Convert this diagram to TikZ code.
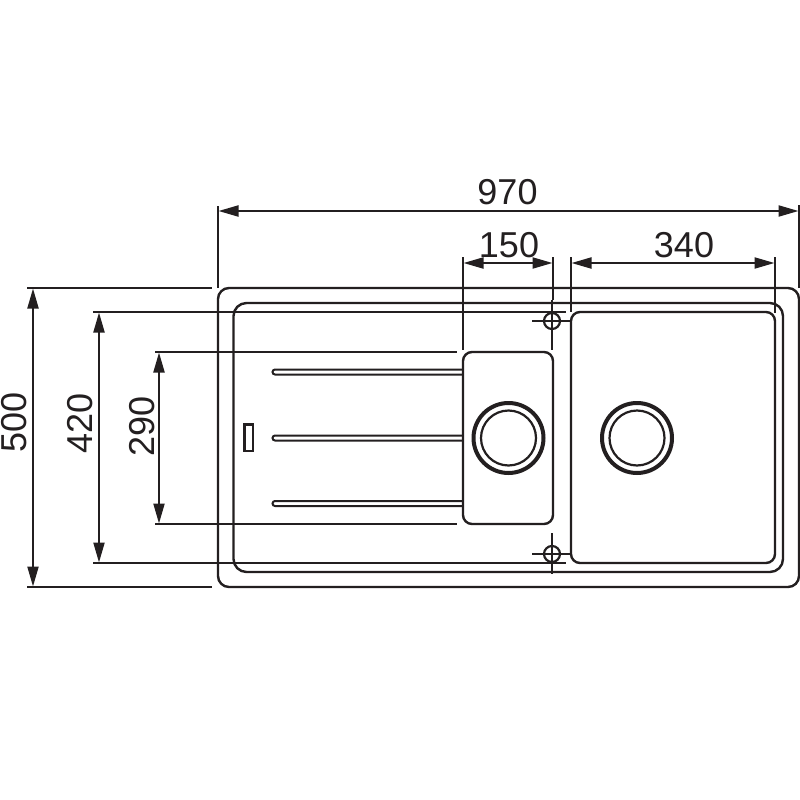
\documentclass[tikz,border=0pt]{standalone}
\usepackage{fontspec}
\setmainfont{Liberation Sans}
\usetikzlibrary{arrows.meta}
\definecolor{ink}{HTML}{231F20}
\tikzset{
  part/.style={draw=ink,line width=2.4pt},
  thin part/.style={draw=ink,line width=2.2pt},
  heavy ring/.style={draw=ink,line width=4pt},
  ext/.style={draw=ink,line width=2.1pt},
  dim/.style={draw=ink,line width=2.1pt,{Triangle[length=20pt,width=11pt]}-{Triangle[length=20pt,width=11pt]},shorten >=0.5pt,shorten <=0.5pt},
  label/.style={text=ink,font=\fontsize{36}{36}\selectfont,inner sep=0pt}
}
\newcommand{\holecross}[3]{%
  \coordinate (#1) at (#2,#3);
  \draw[thin part] (#1) circle[radius=8pt];
}
\begin{document}
\begin{tikzpicture}[x=1pt,y=-1pt]
\useasboundingbox (0,0) rectangle (800,800);
\fill[white] (0,0) rectangle (800,800);
% sink outlines
\draw[part,rounded corners=11pt] (218,288) rectangle (799,587);
\draw[part,rounded corners=13pt] (233.5,303) rectangle (783,572);
\draw[part,rounded corners=9pt] (571,312) rectangle (775,563);
\draw[part,rounded corners=9pt] (463,352) rectangle (553,524);
% drainer ribs
\foreach \a/\b in {369.5/374.5,435.5/440.5,501/506}{
  \draw[draw=ink,line width=2pt,rounded corners=2.5pt] (463,\a) -- (272.5,\a) -- (272.5,\b) -- (463,\b);
}
\draw[thin part] (244.5,424.5) rectangle (253,451);
% drains
\foreach \c/\x in {dl/508.5,dr/637}{
  \coordinate (\c) at (\x,438);
  \draw[heavy ring] (\c) circle[radius=35pt];
  \draw[thin part] (\c) circle[radius=27.5pt];
}
% tap holes
\holecross{ht}{552}{321}
\holecross{hb}{552}{554}
\draw[ext] (532,321) -- (571,321) (552,300) -- (552,350);
\draw[ext] (532,554) -- (571,554) (552,533) -- (552,574);
% extension lines
\coordinate (a1) at (218,206); \coordinate (a2) at (218,288);
\coordinate (b1) at (799,205); \coordinate (b2) at (799,288);
\draw[ext] (a1) -- (a2) (b1) -- (b2);
\draw[ext] (463,257) -- (463,350);
\draw[ext] (553,257) -- (553,300);
\draw[ext] (571,257) -- (571,312);
\draw[ext] (775,257) -- (775,313);
\draw[ext] (27,288) -- (212,288);
\draw[ext] (27,587) -- (212,587);
\draw[ext] (93,312) -- (566,312);
\draw[ext] (93,563) -- (566,563);
\draw[ext] (155,352) -- (457,352);
\draw[ext] (155,524) -- (457,524);
% dimensions
\draw[dim] (218,211) -- (799,211);
\draw[dim] (463,263) -- (553,263);
\draw[dim] (571,263) -- (775,263);
\draw[dim] (33,288) -- (33,587);
\draw[dim] (99,312) -- (99,563);
\draw[dim] (159,352) -- (159,524);
% labels
\node[label] (t970) at (507.5,192) {970};
\node[label] (t150) at (509,245) {150};
\node[label] (t340) at (684,245) {340};
\node[label,rotate=90] (t500) at (14.5,422.5) {500};
\node[label,rotate=90] (t420) at (80.5,423) {420};
\node[label,rotate=90] (t290) at (142,426) {290};
\end{tikzpicture}
\end{document}
